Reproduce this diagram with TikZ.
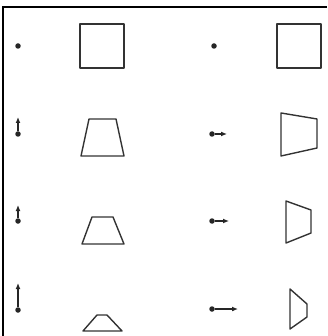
\documentclass[tikz,border=0pt]{standalone}
\usetikzlibrary{arrows.meta}

\begin{document}
\begin{tikzpicture}[x=1pt, y=-1pt,
  frame/.style={line width=1.6pt},
  face/.style={draw=black!80, line width=1.4pt, line join=round},
  base/.style={circle, fill=black!85, inner sep=0pt, minimum size=5.5pt},
  vec/.style={-{Latex[length=6pt,width=5pt]}, line width=1.8pt, black!85}
]
  \useasboundingbox (0,0) rectangle (327,336);
  \draw[frame] (3,336) -- (3,7) -- (327,7);

  % left column: tilt about the bottom edge
  \node[base] (u1) at (18,46) {};
  \node[base] (u2) at (18,134) {};
  \node[base] (u3) at (18,221) {};
  \node[base] (u4) at (18,310) {};
  \coordinate (u2t) at (18,117);
  \coordinate (u3t) at (18,205);
  \coordinate (u4t) at (18,283);
  \draw[vec] (u2) -- (u2t);
  \draw[vec] (u3) -- (u3t);
  \draw[vec] (u4) -- (u4t);

  \draw[face] (80,24) rectangle (124,68);
  \draw[face] (81,156) -- (124,156) -- (116,119) -- (89,119) -- cycle;
  \draw[face] (82,244) -- (124,244) -- (113,217) -- (92,217) -- cycle;
  \draw[face] (83,331) -- (122,331) -- (107,315) -- (97,315) -- cycle;

  % right column: turn about the left edge
  \node[base] (r1) at (214,46) {};
  \node[base] (r2) at (212,134) {};
  \node[base] (r3) at (212,221) {};
  \node[base] (r4) at (212,309) {};
  \coordinate (r2t) at (227,134);
  \coordinate (r3t) at (229,221);
  \coordinate (r4t) at (238,309);
  \draw[vec] (r2) -- (r2t);
  \draw[vec] (r3) -- (r3t);
  \draw[vec] (r4) -- (r4t);

  \draw[face] (277,24) rectangle (321,68);
  \draw[face] (281,113) -- (281,156) -- (317,148) -- (317,119) -- cycle;
  \draw[face] (286,201) -- (286,243) -- (311,233) -- (311,210) -- cycle;
  \draw[face] (290,289) -- (290,329) -- (307,317) -- (307,304) -- cycle;
\end{tikzpicture}
\end{document}
